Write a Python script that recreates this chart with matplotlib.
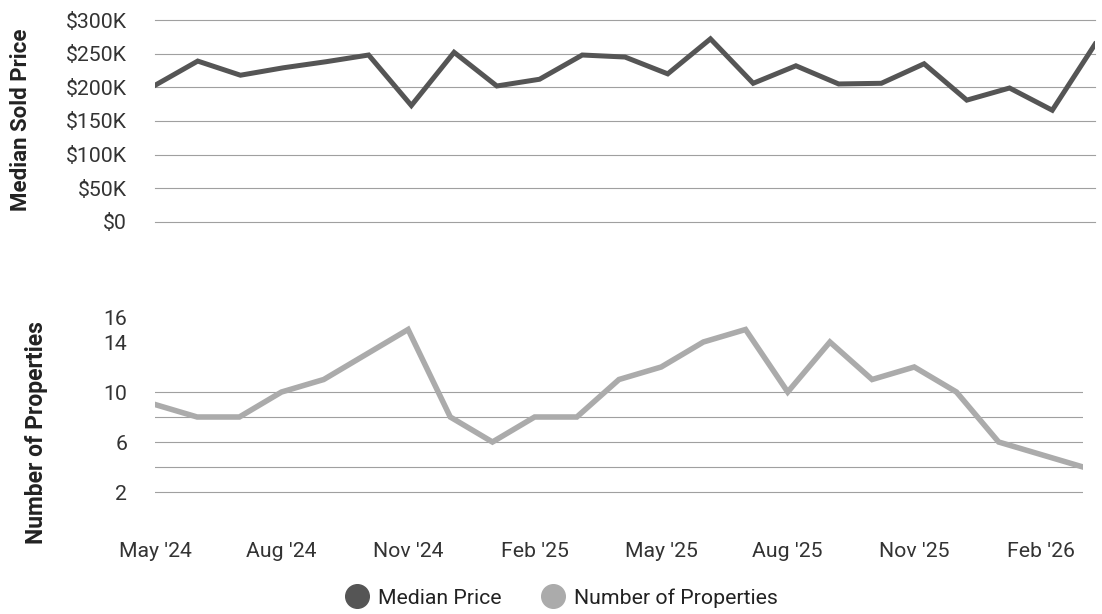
import numpy as np
import matplotlib
matplotlib.use("Agg")
import matplotlib.pyplot as plt
from matplotlib.lines import Line2D
from matplotlib.ticker import FuncFormatter

plt.rcParams['font.family'] = ['Roboto', 'DejaVu Sans']

# months May '24 .. Mar '26
months = ["May '24", "Jun '24", "Jul '24", "Aug '24", "Sep '24", "Oct '24", "Nov '24",
          "Dec '24", "Jan '25", "Feb '25", "Mar '25", "Apr '25", "May '25", "Jun '25",
          "Jul '25", "Aug '25", "Sep '25", "Oct '25", "Nov '25", "Dec '25", "Jan '26",
          "Feb '26", "Mar '26"]
median_price = [203, 239, 218, 229, 238, 248, 173, 252, 202, 212, 248, 245,
                220, 272, 206, 232, 205, 206, 235, 181, 199, 166, 264]  # $K
num_properties = [9, 8, 8, 10, 11, 13, 15, 8, 6, 8, 8, 11,
                  12, 14, 15, 10, 14, 11, 12, 10, 6, 5, 4]
price_ticks = [0, 50, 100, 150, 200, 250, 300]
count_ticks = [2, 6, 10, 14, 16]
count_grid = [2, 4, 6, 8, 10]
tick_months = ["May '24", "Aug '24", "Nov '24", "Feb '25", "May '25",
               "Aug '25", "Nov '25", "Feb '26"]

dark = '#555555'
light = '#ababab'
grid_c = '#a0a0a0'
text_c = '#333333'
fs = 15.3

x = np.arange(len(months))

fig = plt.figure(figsize=(11.02, 6.14), dpi=100)
ax1 = fig.add_axes([155 / 1102, 1 - 222 / 614, 940 / 1102, 202 / 614])
ax2 = fig.add_axes([155 / 1102, 1 - 517 / 614, 928 / 1102, 200 / 614])

# top: median price
ax1.plot(x, median_price, color=dark, lw=3.6, solid_joinstyle='miter', zorder=3)
ax1.set_xlim(0, len(months) - 1)
ax1.set_ylim(0, 300)
ax1.set_yticks(price_ticks)
ax1.yaxis.set_major_formatter(FuncFormatter(lambda v, p: '$0' if v == 0 else f'${int(v)}K'))
for v in price_ticks:
    ax1.axhline(v, color=grid_c, lw=0.8, clip_on=False, zorder=1)
ax1.set_xticks([])
ax1.set_ylabel('Median Sold Price', fontsize=16, fontweight='bold', color='#222222')
ax1.yaxis.set_label_coords(-0.131, 0.505)

# bottom: number of properties
ax2.plot(x, num_properties, color=light, lw=4.0, solid_joinstyle='miter', zorder=3)
ax2.set_xlim(0, len(months) - 1)
ax2.set_ylim(0, 16)
ax2.set_yticks(count_ticks)
for v in count_grid:
    ax2.axhline(v, color=grid_c, lw=0.8, zorder=1)
ax2.set_xticks([months.index(m) for m in tick_months])
ax2.set_xticklabels(tick_months)
ax2.set_ylabel('Number of Properties', fontsize=16.5, fontweight='bold', color='#222222')
ax2.yaxis.set_label_coords(-0.115, 0.42)

for ax in (ax1, ax2):
    for s in ax.spines.values():
        s.set_visible(False)
    ax.tick_params(axis='both', which='major', length=0, labelsize=fs, labelcolor=text_c)
    ax.tick_params(axis='y', which='major', pad=20)
ax2.tick_params(axis='x', pad=18)

handles = [Line2D([], [], ls='none', marker='o', ms=17, color=dark, label='Median Price'),
           Line2D([], [], ls='none', marker='o', ms=17, color=light, label='Number of Properties')]
fig.legend(handles=handles, loc='center', bbox_to_anchor=(0.51, 0.026), ncol=2,
           frameon=False, fontsize=fs, handlelength=1.0, handletextpad=0.5,
           columnspacing=1.9, labelcolor='#222222')

fig.savefig('out.png', dpi=100, facecolor='white')
